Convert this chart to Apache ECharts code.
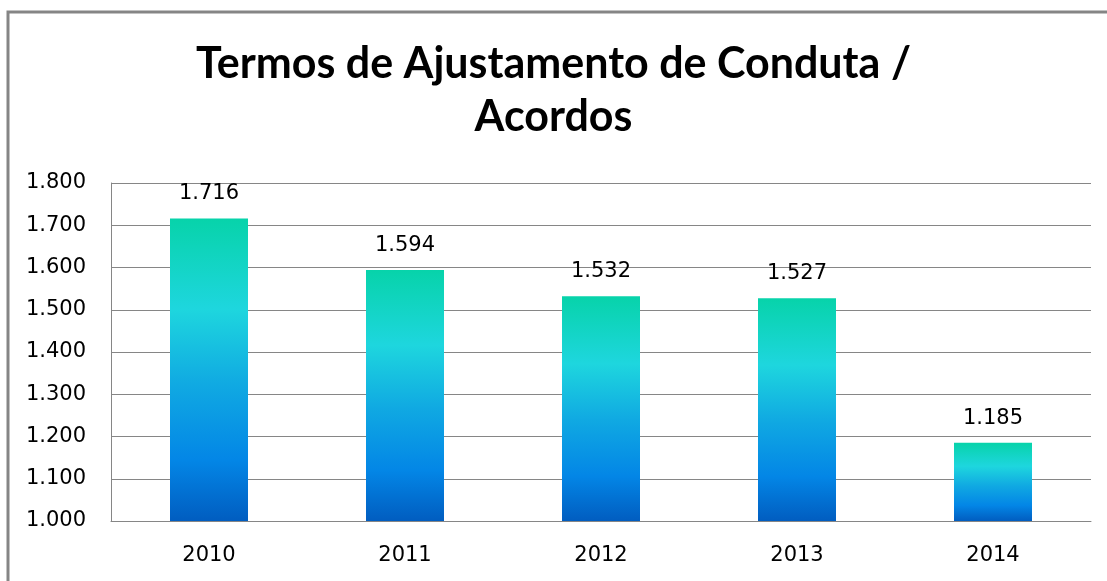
<!DOCTYPE html>
<html>
<head>
    <meta charset="UTF-8">
    <title>Termos de Ajustamento de Conduta / Acordos</title>
    <script src="https://cdn.jsdelivr.net/npm/echarts@6/dist/echarts.min.js"></script>
    <style>
        * { margin: 0; padding: 0; }
        body { background: #fff; }
        #main { width: 1107px; height: 581px; }
    </style>
</head>
<body>
<div id="main"></div>
<script>
var anos = ['2010', '2011', '2012', '2013', '2014'];
var termos = [1716, 1594, 1532, 1527, 1185];
var eixoMin = 1000, eixoMax = 1800, passo = 100;

// 1716 -> "1.716"
function milhar(v) {
    return String(v).replace(/\B(?=(\d{3})+(?!\d))/g, '.');
}

var chart = echarts.init(document.getElementById('main'));

var gradiente = new echarts.graphic.LinearGradient(0, 0, 0, 1, [
    {offset: 0, color: '#07d3aa'},
    {offset: 0.3, color: '#1ed6de'},
    {offset: 0.55, color: '#10a9e2'},
    {offset: 0.8, color: '#0386e6'},
    {offset: 1, color: '#015dc0'}
]);

chart.setOption({
    animation: false,
    backgroundColor: '#fff',
    title: {
        text: 'Termos de Ajustamento de Conduta /\nAcordos',
        left: 'center',
        top: 33,
        textStyle: {
            fontFamily: 'Lato',
            fontWeight: 'bold',
            fontSize: 43,
            lineHeight: 53,
            color: '#000'
        }
    },
    graphic: [{
        type: 'rect',
        shape: {x: 8, y: 12, width: 1300, height: 800},
        style: {fill: 'none', stroke: '#858585', lineWidth: 3},
        silent: true
    }],
    grid: {left: 111, right: 16, top: 183, bottom: 60},
    xAxis: {
        type: 'category',
        data: anos,
        axisLine: {lineStyle: {color: '#868686', width: 1}},
        axisTick: {show: false},
        axisLabel: {
            margin: 24,
            fontFamily: 'DejaVu Sans',
            fontSize: 21,
            color: '#000'
        }
    },
    yAxis: {
        type: 'value',
        min: eixoMin,
        max: eixoMax,
        interval: passo,
        axisLine: {show: true, lineStyle: {color: '#868686', width: 1}},
        axisTick: {show: false},
        splitLine: {lineStyle: {color: '#868686', width: 1}},
        axisLabel: {
            margin: 25,
            fontFamily: 'DejaVu Sans',
            fontSize: 21,
            color: '#000',
            formatter: milhar
        }
    },
    series: [{
        type: 'bar',
        data: termos,
        barWidth: 78,
        itemStyle: {color: gradiente},
        label: {
            show: true,
            position: 'top',
            distance: 14,
            fontFamily: 'DejaVu Sans',
            fontSize: 21,
            color: '#000',
            formatter: function (p) { return milhar(p.value); }
        }
    }]
});
</script>
</body>
</html>
